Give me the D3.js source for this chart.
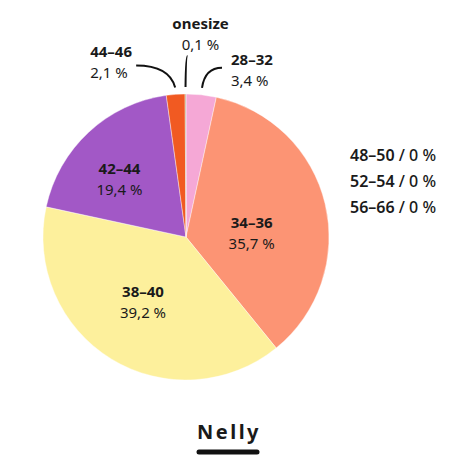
<!DOCTYPE html>
<html>
<head>
<meta charset="utf-8">
<script src="https://cdn.jsdelivr.net/npm/d3@7"></script>
<style>
  body { margin: 0; background: #fff; }
  text { font-family: "Noto Sans", sans-serif; fill: #1a1a1a; }
</style>
</head>
<body>
<script>
// Data
const sizes = ["28–32", "34–36", "38–40", "42–44", "44–46", "onesize"];
const shares = [3.4, 35.7, 39.2, 19.4, 2.1, 0.1];
const colors = ["#f5a8d6", "#fc9474", "#fdf09c", "#a258c6", "#f15a22", "#a3a26e"];
const zeroSizes = ["48–50", "52–54", "56–66"];
const zeroShares = [0, 0, 0];
const title = "Nelly";

// Canvas setup
const width = 468, height = 468;
const cx = 186, cy = 237, radius = 143;
const fontSize = 15, lineGap = 21;

const svg = d3.select("body").append("svg")
    .attr("width", width)
    .attr("height", height);

const fmt = v => String(v).replace(".", ",") + " %";

const data = sizes.map((s, i) => ({ size: s, share: shares[i], color: colors[i] }));

const pie = d3.pie().sort(null).value(d => d.share);
const arcs = pie(data);

const arc = d3.arc().innerRadius(0).outerRadius(radius);
const labelArc = d3.arc().innerRadius(86).outerRadius(86);
const leaderArc = d3.arc().innerRadius(150).outerRadius(150);

const g = svg.append("g").attr("transform", `translate(${cx},${cy})`);

g.selectAll("path.slice").data(arcs).enter().append("path")
    .attr("class", "slice")
    .attr("d", arc)
    .attr("fill", d => d.data.color)
    .attr("stroke", "#fff")
    .attr("stroke-width", 0.4);

// inside labels (big slices), small nudges for layout
const insideNudge = { "34–36": [-18, 15], "38–40": [2, -9], "42–44": [-8, 4] };
const inside = arcs.filter(d => d.data.share > 10);
const inLab = g.selectAll("g.inlab").data(inside).enter().append("g")
    .attr("class", "inlab")
    .attr("transform", d => {
        const c = labelArc.centroid(d);
        const n = insideNudge[d.data.size] || [0, 0];
        return `translate(${c[0] + n[0]},${c[1] + n[1]})`;
    });
inLab.append("text")
    .attr("text-anchor", "middle")
    .attr("y", -4)
    .attr("font-size", fontSize)
    .attr("font-weight", "bold")
    .text(d => d.data.size);
inLab.append("text")
    .attr("text-anchor", "middle")
    .attr("y", -4 + lineGap)
    .attr("font-size", fontSize)
    .text(d => fmt(d.data.share));

// outside labels with leader lines
const outsideLayout = {
    "28–32": { dx: 20, dy: -20, anchor: "start", tx: 9, ty: -3 },
    "44–46": { dx: -39, dy: -22, anchor: "start", tx: -46, ty: -8 },
    "onesize": { dx: 2, dy: -31, anchor: "middle", tx: 13, ty: -27 }
};
const outside = arcs.filter(d => d.data.share <= 10);
outside.forEach(d => {
    const L = outsideLayout[d.data.size];
    const p0 = leaderArc.centroid(d);
    const p2 = [p0[0] + L.dx, p0[1] + L.dy];
    const path = d3.path();
    path.moveTo(p0[0], p0[1]);
    path.quadraticCurveTo(p0[0] + L.dx * 0.15, p2[1], p2[0], p2[1]);
    g.append("path")
        .attr("d", path.toString())
        .attr("fill", "none")
        .attr("stroke", "#111")
        .attr("stroke-width", 2);
    const tg = g.append("g").attr("transform", `translate(${p2[0] + L.tx},${p2[1] + L.ty})`);
    tg.append("text")
        .attr("text-anchor", L.anchor)
        .attr("font-size", fontSize)
        .attr("font-weight", "bold")
        .text(d.data.size);
    tg.append("text")
        .attr("text-anchor", L.anchor)
        .attr("y", lineGap)
        .attr("font-size", fontSize)
        .text(fmt(d.data.share));
});

// zero-share legend on the right
const legY = d3.scalePoint().domain(zeroSizes).range([161, 213]);
const leg = svg.selectAll("text.zero").data(zeroSizes).enter().append("text")
    .attr("class", "zero")
    .attr("x", 350)
    .attr("y", d => legY(d))
    .attr("font-size", 16)
    .attr("font-weight", 600);
leg.append("tspan").text(d => d);
leg.append("tspan").attr("font-weight", 500).text((d, i) => " / " + fmt(zeroShares[i]));

// title with underline
svg.append("text")
    .attr("x", 229)
    .attr("y", 439)
    .attr("text-anchor", "middle")
    .attr("font-size", 20)
    .attr("font-weight", "bold")
    .attr("letter-spacing", 2.5)
    .text(title);
svg.append("line")
    .attr("x1", 199).attr("x2", 257)
    .attr("y1", 452).attr("y2", 452)
    .attr("stroke", "#111")
    .attr("stroke-width", 5)
    .attr("stroke-linecap", "round");
</script>
</body>
</html>
